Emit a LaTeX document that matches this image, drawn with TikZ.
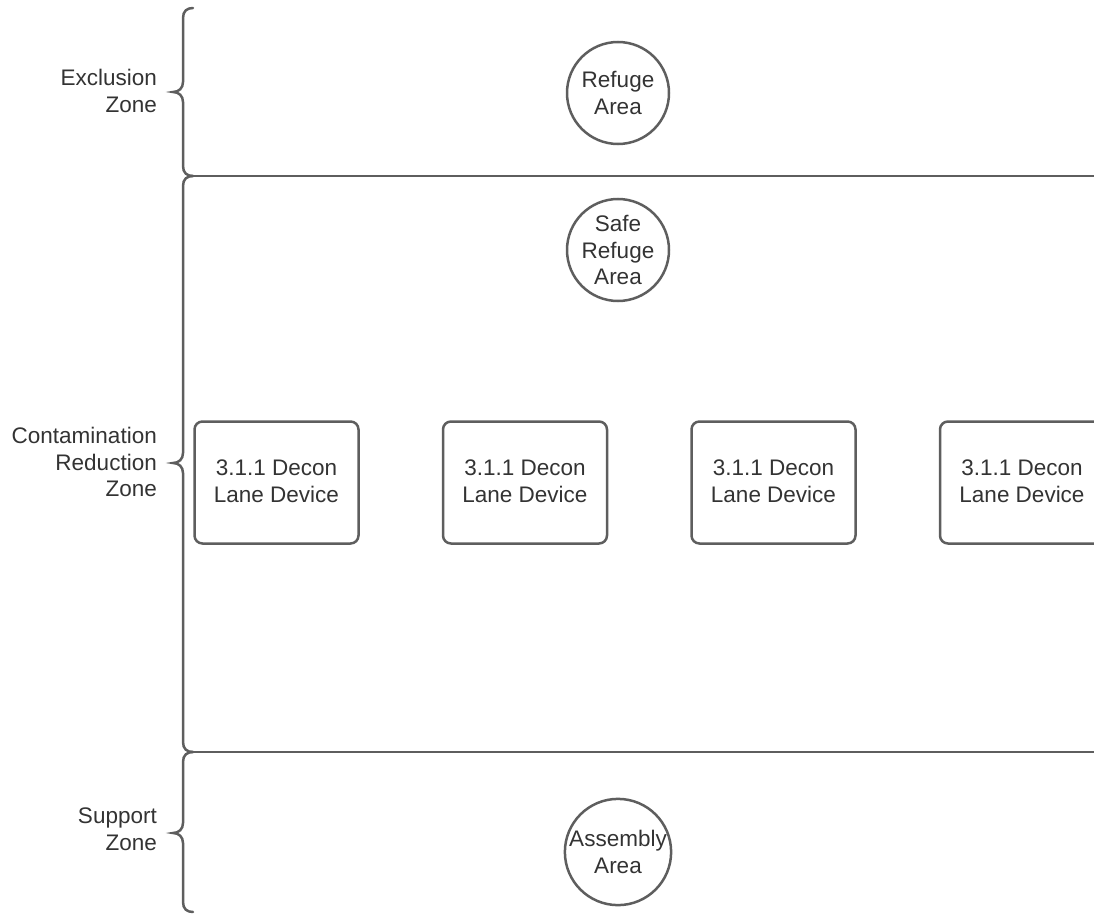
\documentclass[tikz,border=0pt]{standalone}
\usepackage{fontspec}
\setmainfont{Liberation Sans}
\usepackage{xcolor}
\definecolor{zoneLine}{HTML}{5E5E5E}
\definecolor{darkText}{HTML}{333333}
\usetikzlibrary{positioning}
\tikzset{
    % Base style for all nodes
    zone base/.style={
        font=\fontsize{22.5}{26.5}\selectfont,
        text=darkText,
        align=center,
        inner sep=0pt,
    },
    % Zone names on the left of the braces
    zone label/.style={
        zone base,
        align=right,
        anchor=east,
    },
    % Refuge / assembly areas - plain circles
    area/.style={
        zone base,
        circle,
        draw=zoneLine,
        line width=2.5pt,
        minimum size=102pt,
    },
    % Decon lane devices - rounded boxes
    lane/.style={
        zone base,
        rectangle,
        rounded corners=8pt,
        draw=zoneLine,
        line width=2.5pt,
        minimum width=164pt,
        minimum height=122pt,
    },
    % Braces and zone dividers
    zone line/.style={
        draw=zoneLine,
        line width=2.5pt,
        line cap=round,
    },
}
% Curly brace: top, tip, bottom
\newcommand{\zonebrace}[3]{%
    \draw[zone line] (193,#1) .. controls (187,#1) and (183,{#1+3}) .. (183,{#1+10})
        -- (183,{#2-10}) .. controls (183,{#2-4}) and (179,#2) .. (173,#2)
        .. controls (179,#2) and (183,{#2+4}) .. (183,{#2+10})
        -- (183,{#3-10}) .. controls (183,{#3-3}) and (187,#3) .. (193,#3);
}

\begin{document}
\begin{tikzpicture}[x=1pt, y=-1pt]
    \path[use as bounding box] (0,0) rectangle (1094,915);
    \clip (0,0) rectangle (1094,915);

    % Zones
    \node (exclLabel) [zone label] at (157,91) {Exclusion\\Zone};
    \node (contamLabel) [zone label] at (157,462) {Contamination\\Reduction\\Zone};
    \node (supportLabel) [zone label] at (157,829) {Support\\Zone};

    \zonebrace{8}{92}{176}
    \zonebrace{176}{463}{752}
    \zonebrace{752}{833}{912}

    \draw[zone line] (193,176) -- (1094,176);
    \draw[zone line] (193,752) -- (1094,752);

    % Areas
    \node (refuge) [area] at (618,93) {Refuge\\Area};
    \node (safeRefuge) [area] at (618,250) {Safe\\Refuge\\Area};
    \node (assembly) [area] at (618,852) {Assembly\\Area};

    % Lanes
    \node (lane1) [lane] at (276.5,482.5) {3.1.1 Decon\\Lane Device\rule[-3pt]{0pt}{0pt}};
    \foreach \i [remember=\i as \j (initially 1)] in {2,3,4}
        \node (lane\i) [lane, right=82pt of lane\j] {3.1.1 Decon\\Lane Device\rule[-3pt]{0pt}{0pt}};
\end{tikzpicture}
\end{document}
